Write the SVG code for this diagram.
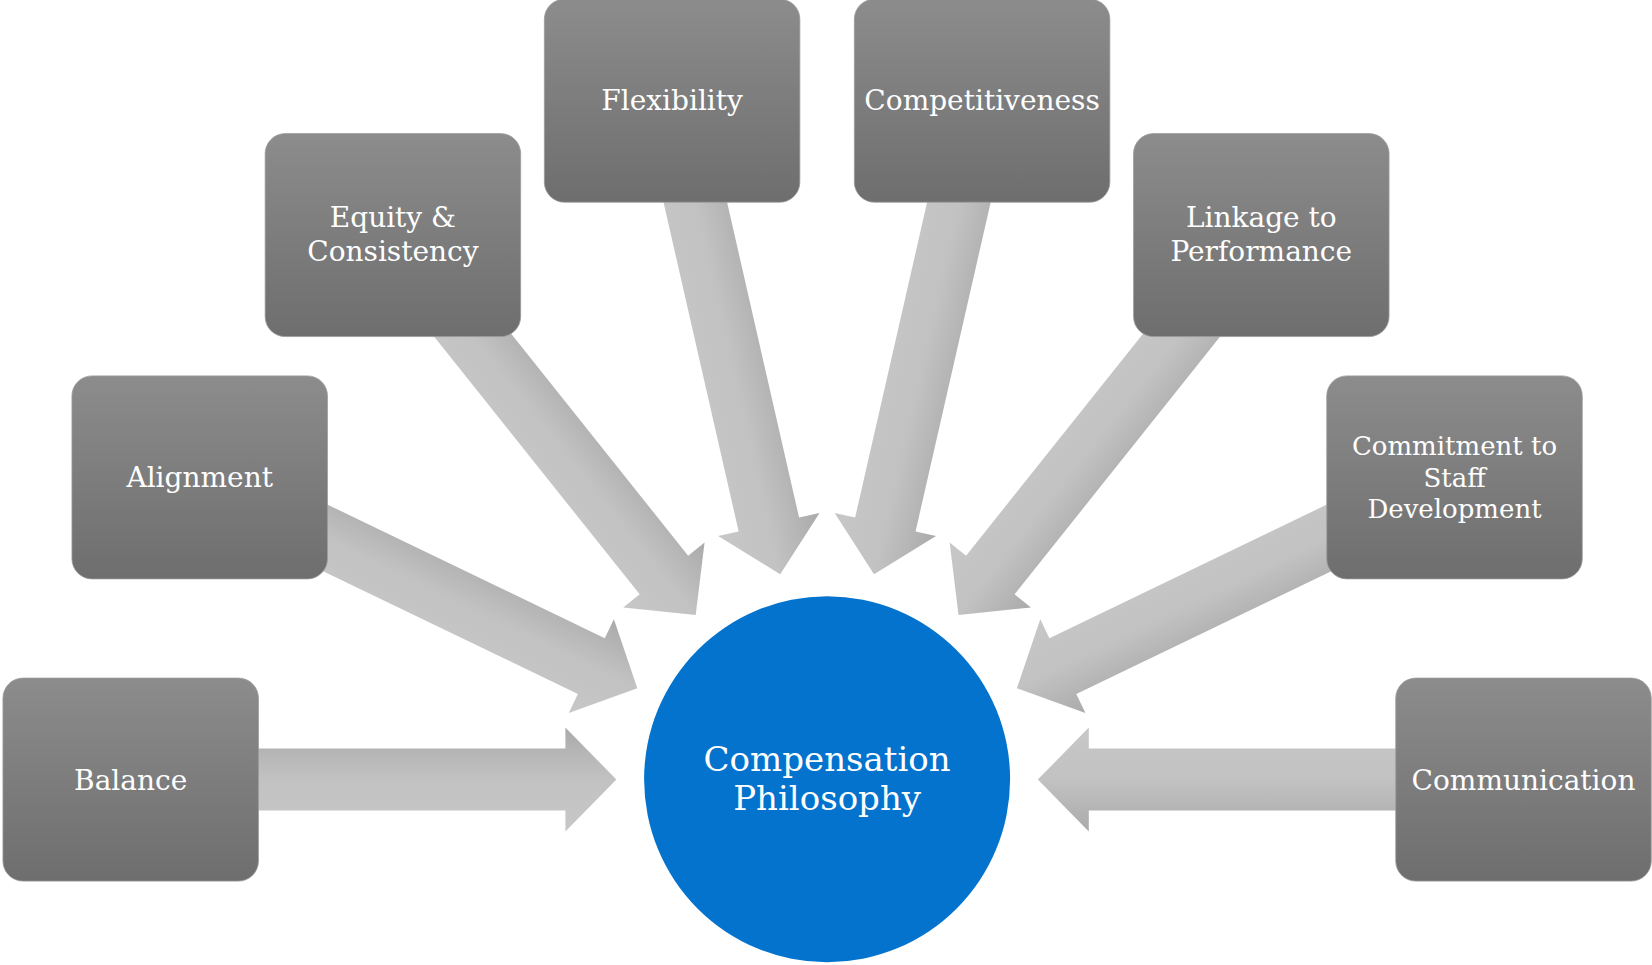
<svg xmlns="http://www.w3.org/2000/svg" xmlns:xlink="http://www.w3.org/1999/xlink" width="1652" height="965" viewBox="0 0 1652 965">
<style>
.box{fill:url(#boxGrad);stroke:#9a9a9a;stroke-width:0.8}
.lbl{font-family:"DejaVu Serif","Liberation Serif",serif;font-size:28px;fill:#ffffff;text-anchor:middle}
.sm{font-size:26px}
.big{font-size:34px}
.arr{fill:url(#arrGrad)}
</style>
<defs>
<linearGradient id="boxGrad" x1="0" y1="0" x2="0" y2="1">
<stop offset="0" stop-color="#8c8c8c"/>
<stop offset="1" stop-color="#6e6e6e"/>
</linearGradient>
<linearGradient id="arrGrad" gradientUnits="userSpaceOnUse" x1="0" y1="-52" x2="0" y2="52">
<stop offset="0" stop-color="#aaaaaa"/>
<stop offset="0.5" stop-color="#c2c2c2"/>
<stop offset="1" stop-color="#c7c7c7"/>
</linearGradient>
<path id="arrow" d="M-439,-31 L-51,-31 L-51,-52 L0,0 L-51,52 L-51,31 L-439,31 Z"/>
</defs>
<g id="connectors" class="arr">
<use xlink:href="#arrow" transform="translate(616.4,779.6) rotate(0)"/>
<use xlink:href="#arrow" transform="translate(637.3,688.2) rotate(25.714)"/>
<use xlink:href="#arrow" transform="translate(695.7,614.9) rotate(51.429)"/>
<use xlink:href="#arrow" transform="translate(780.2,574.2) rotate(77.143)"/>
<use xlink:href="#arrow" transform="translate(874.0,574.2) rotate(102.857)"/>
<use xlink:href="#arrow" transform="translate(958.5,614.9) rotate(128.571)"/>
<use xlink:href="#arrow" transform="translate(1016.9,688.2) rotate(154.286)"/>
<use xlink:href="#arrow" transform="translate(1037.8,779.6) rotate(180)"/>
</g>
<g id="balance">
<rect class="box" x="2.95" y="678.1" width="255.5" height="203" rx="20"/>
<text class="lbl" x="130.7" y="790">Balance</text>
</g>
<g id="alignment">
<rect class="box" x="71.95" y="375.9" width="255.5" height="203" rx="20"/>
<text class="lbl" x="199.7" y="487.4">Alignment</text>
</g>
<g id="equity">
<rect class="box" x="265.15" y="133.6" width="255.5" height="203" rx="20"/>
<text class="lbl" x="392.9" y="226.5">Equity &amp;</text>
<text class="lbl" x="392.9" y="260.5">Consistency</text>
</g>
<g id="flexibility">
<rect class="box" x="544.35" y="-0.8" width="255.5" height="203" rx="20"/>
<text class="lbl" x="672.1" y="110">Flexibility</text>
</g>
<g id="competitiveness">
<rect class="box" x="854.35" y="-0.8" width="255.5" height="203" rx="20"/>
<text class="lbl" x="982.1" y="110">Competitiveness</text>
</g>
<g id="linkage">
<rect class="box" x="1133.55" y="133.6" width="255.5" height="203" rx="20"/>
<text class="lbl" x="1261.3" y="226.5">Linkage to</text>
<text class="lbl" x="1261.3" y="260.5">Performance</text>
</g>
<g id="commitment">
<rect class="box" x="1326.75" y="375.9" width="255.5" height="203" rx="20"/>
<text class="lbl sm" x="1454.5" y="455">Commitment to</text>
<text class="lbl sm" x="1454.5" y="486.5">Staff</text>
<text class="lbl sm" x="1454.5" y="517.5">Development</text>
</g>
<g id="communication">
<rect class="box" x="1395.75" y="678.1" width="255.5" height="203" rx="20"/>
<text class="lbl" x="1523.5" y="790">Communication</text>
</g>
<g id="center">
<circle cx="827.1" cy="779.3" r="183" fill="#0373ce"/>
<text class="lbl big" x="827.1" y="771">Compensation</text>
<text class="lbl big" x="827.1" y="810">Philosophy</text>
</g>
</svg>
